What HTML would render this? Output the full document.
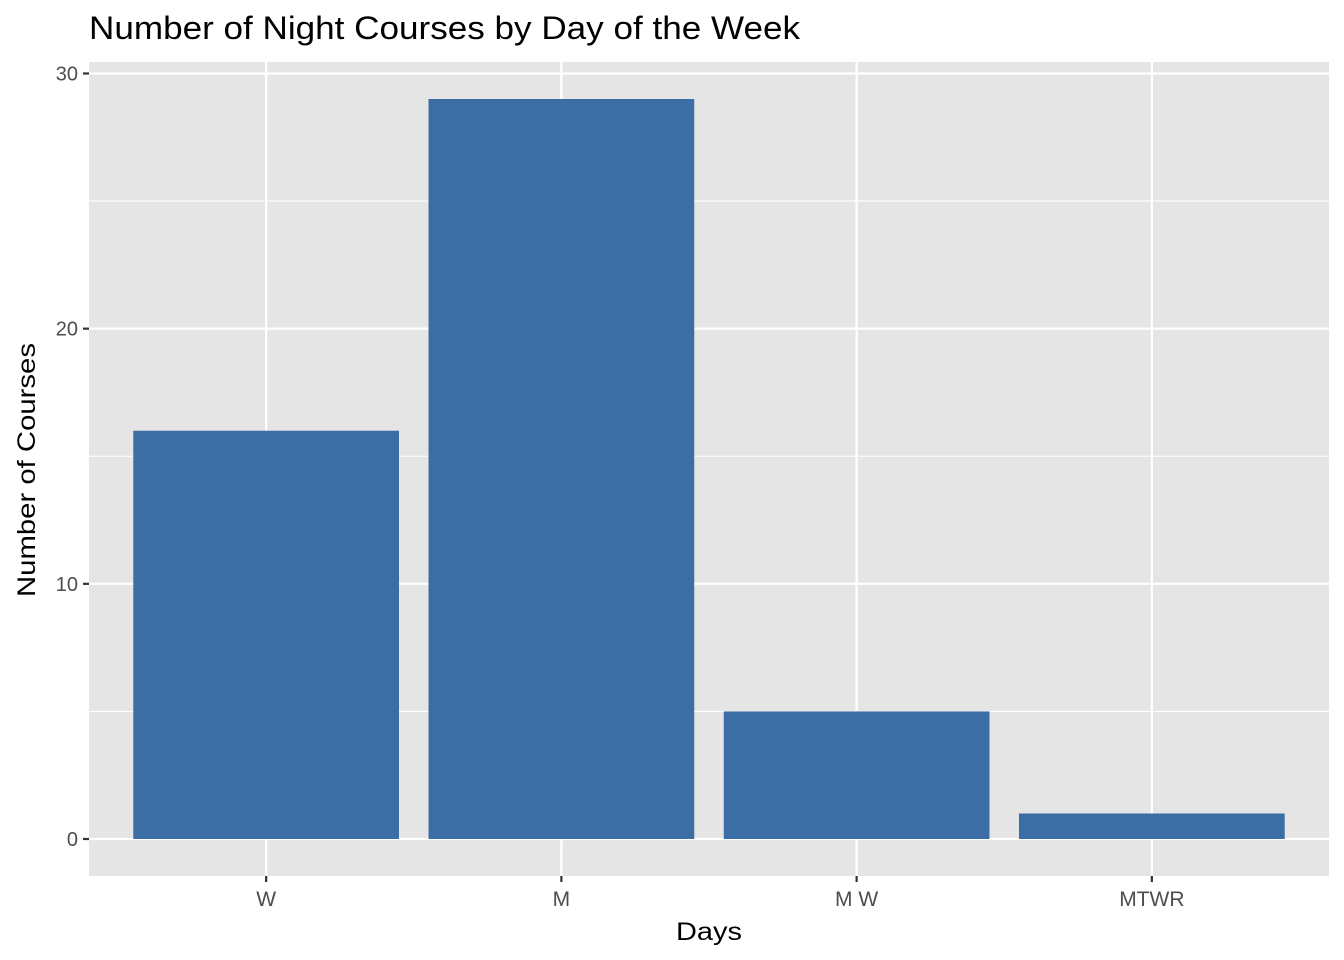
<!DOCTYPE html>
<html><head><meta charset="utf-8"><style>
body{margin:0;background:#fff;}
svg{display:block;font-family:"Liberation Sans",Arial,sans-serif;}
</style></head><body>
<svg id="chart" width="1344" height="960" viewBox="0 0 1344 960">
<rect x="0" y="0" width="1344" height="960" fill="#fff"/>
<text x="89" y="39" font-size="32" textLength="711" lengthAdjust="spacingAndGlyphs" fill="#000">Number of Night Courses by Day of the Week</text>
<rect x="89" y="62" width="1240" height="814" fill="#e5e5e5"/>
<g id="grid"></g>
<g id="bars"></g>
<g id="axes"></g>
<text x="709" y="940" font-size="25" textLength="66" lengthAdjust="spacingAndGlyphs" text-anchor="middle" fill="#000">Days</text>
<text transform="translate(35,470) rotate(-90)" font-size="25" textLength="254" lengthAdjust="spacingAndGlyphs" text-anchor="middle" fill="#000">Number of Courses</text>
</svg>
<script>
const categories = ["W","M","M W","MTWR"];
const counts = [16,29,5,1];
const yTicks = [0,10,20,30];
const yMinorTicks = [5,15,25];

const NS="http://www.w3.org/2000/svg";
const pL=89,pR=1329,pT=62,pB=876;
const maxV=Math.max(...counts), yLo=-maxV*0.05, yHi=maxV*1.05;
const y=v=>pB-(v-yLo)/(yHi-yLo)*(pB-pT);
const step=(pR-pL)/(categories.length+0.2);
const x=i=>pL+step*(0.6+i);
function mk(tag,attrs,parent){const e=document.createElementNS(NS,tag);for(const k in attrs)e.setAttribute(k,attrs[k]);document.getElementById(parent).appendChild(e);return e;}
yMinorTicks.forEach(v=>{const l=mk('line',{x1:pL,x2:pR,y1:y(v),y2:y(v),stroke:'#fff','stroke-width':1.1},'grid');

});
yTicks.forEach(v=>{const l=mk('line',{x1:pL,x2:pR,y1:y(v),y2:y(v),stroke:'#fff','stroke-width':2.2},'grid');


const t=mk('line',{x1:pL-6,x2:pL,y1:y(v),y2:y(v),stroke:'#333','stroke-width':2.2},'axes');


const tx=mk('text',{x:pL-11,y:y(v)+7,'font-size':20,'text-anchor':'end',fill:'#4d4d4d'},'axes');tx.textContent=v;

});
categories.forEach((c,i)=>{const l=mk('line',{x1:x(i),x2:x(i),y1:pT,y2:pB,stroke:'#fff','stroke-width':2.2},'grid');


const w=step*0.9;
const b=mk('rect',{x:x(i)-w/2,y:y(counts[i]),width:w,height:y(0)-y(counts[i]),fill:'#3a6ea5'},'bars');


const t=mk('line',{x1:x(i),x2:x(i),y1:pB,y2:pB+6,stroke:'#333','stroke-width':2.2},'axes');


const tx=mk('text',{x:x(i),y:pB+30,'font-size':21,'text-anchor':'middle',fill:'#4d4d4d'},'axes');tx.textContent=c;

});
</script>
</body></html>
